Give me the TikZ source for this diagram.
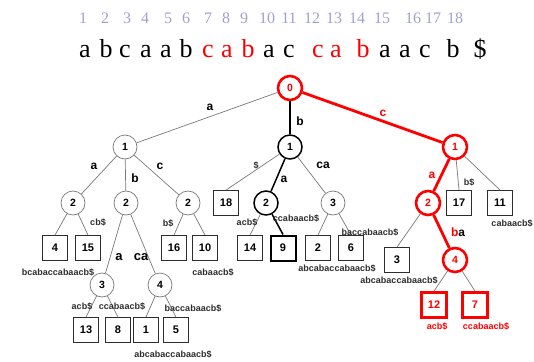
\documentclass[tikz,border=0pt]{standalone}
\usepackage{fontspec}
\setmainfont{Liberation Serif}
\setsansfont{Liberation Sans}
\definecolor{idx}{RGB}{160,160,208}
\definecolor{myred}{RGB}{255,0,0}
\definecolor{edgegray}{RGB}{120,120,120}
\definecolor{lblgray}{RGB}{45,45,45}
\tikzset{
  circ/.style={circle,draw=edgegray,line width=0.7pt,minimum size=24pt,inner sep=0pt,font=\sffamily\bfseries\fontsize{10.5}{10.5}\selectfont},
  circk/.style={circ,draw=black,line width=1.5pt},
  circr/.style={circ,draw=myred,line width=2.6pt,text=myred},
  leaf/.style={rectangle,draw=lblgray,line width=0.8pt,minimum size=25pt,inner sep=0pt,font=\sffamily\bfseries\fontsize{11}{11}\selectfont},
  leafk/.style={leaf,draw=black,line width=2pt},
  leafr/.style={leaf,draw=myred,line width=2.8pt,text=myred},
  thin/.style={draw=edgegray,line width=0.7pt},
  thk/.style={draw=black,line width=1.5pt},
  thr/.style={draw=myred,line width=2.8pt},
  elab/.style={font=\sffamily\bfseries\fontsize{12}{12}\selectfont,inner sep=0pt},
  slab/.style={font=\sffamily\bfseries\fontsize{9}{9}\selectfont,text=lblgray,inner sep=0pt},
  idxn/.style={text=idx,font=\fontsize{16}{16}\selectfont,inner sep=0pt},
  chr/.style={font=\fontsize{26}{26}\selectfont,inner sep=0pt,anchor=base}
}
\begin{document}
\begin{tikzpicture}[x=1pt,y=-1pt]
\useasboundingbox (0,0) rectangle (534,361);
% index numbers
\foreach \n/\x in {1/83,2/105,3/127,4/145,5/168,6/186,7/208,8/226,9/244,10/267,11/289,12/312,13/334,14/357,15/382,16/413,17/433,18/455}
  \node[idxn] (i\n) at (\x,18) {\n};
% string
\foreach \c/\x/\col [count=\k] in {a/85/black,b/106/black,c/125/black,a/146/black,a/166/black,b/186/black,c/208/myred,a/227/myred,b/248/myred,a/269/black,c/289/black,c/318/myred,a/336/myred,b/363/myred,a/385/black,a/405/black,c/425/black,b/453/black,\$/480/black}
  \node[chr,text=\col] (s\k) at (\x,57) {\c};
% tree nodes
\node[circr] (r) at (290,88) {0};
\node[circ] (L1) at (125,147) {1};
\node[circk] (M1) at (290,147) {1};
\node[circr] (R1) at (455,147) {1};
\node[circ] (L2a) at (73,203) {2};
\node[circ] (L2b) at (126,203) {2};
\node[circ] (L2c) at (188,203) {2};
\node[leaf] (B4) at (55,248) {4};
\node[leaf] (B15) at (88,248) {15};
\node[circ] (C3) at (102,285) {3};
\node[circ] (C4) at (160,285) {4};
\node[leaf] (B13) at (86,330) {13};
\node[leaf] (B8) at (118,330) {8};
\node[leaf] (B1) at (146,330) {1};
\node[leaf] (B5) at (176,330) {5};
\node[leaf] (B16) at (174,248) {16};
\node[leaf] (B10) at (205,248) {10};
\node[leaf] (B18) at (226,203) {18};
\node[circk] (M2) at (266,203) {2};
\node[circ] (M3) at (333,203) {3};
\node[leaf] (B14) at (250,248) {14};
\node[leafk] (B9) at (283,248) {9};
\node[leaf] (B2) at (318,248) {2};
\node[leaf] (B6) at (351,248) {6};
\node[circr] (R2) at (428,203) {2};
\node[leaf] (B17) at (459,203) {17};
\node[leaf] (B11) at (500,203) {11};
\node[leaf] (B3) at (397,260) {3};
\node[circr] (R4) at (455,260) {4};
\node[leafr] (B12) at (434,305) {12};
\node[leafr] (B7) at (475,305) {7};
% edges
\draw[thin] (r) -- (L1);
\draw[thk] (r) -- (M1);
\draw[thr] (r) -- (R1);
\draw[thin] (L1) -- (L2a);
\draw[thin] (L1) -- (L2b);
\draw[thin] (L1) -- (L2c);
\draw[thin] (L2a) -- (B4.north);
\draw[thin] (L2a) -- (B15.north);
\draw[thin] (L2b) -- (C3);
\draw[thin] (L2b) -- (C4);
\draw[thin] (C3) -- (B13.north);
\draw[thin] (C3) -- (B8.north);
\draw[thin] (C4) -- (B1.north);
\draw[thin] (C4) -- (B5.north);
\draw[thin] (L2c) -- (B16.north);
\draw[thin] (L2c) -- (B10.north);
\draw[thin] (M1) -- (B18.north);
\draw[thk] (M1) -- (M2);
\draw[thin] (M1) -- (M3);
\draw[thin] (M2) -- (B14.north);
\draw[thk] (M2) -- (B9.north);
\draw[thin] (M3) -- (B2.north);
\draw[thin] (M3) -- (B6.north);
\draw[thr] (R1) -- (R2);
\draw[thin] (R1) -- (B17.north);
\draw[thin] (R1) -- (B11.north);
\draw[thin] (R2) -- (B3.north);
\draw[thr] (R2) -- (R4);
\draw[thin] (R4) -- (B12.north);
\draw[thin] (R4) -- (B7.north);
% edge labels
\node[elab] (la) at (210,107) {a};
\node[elab] (lb) at (300,121) {b};
\node[elab,text=myred] (lc) at (383,113) {c};
\node[elab] (l1a) at (94,166) {a};
\node[elab] (l1b) at (135,178) {b};
\node[elab] (l1c) at (160,166) {c};
\node[elab,font=\sffamily\bfseries\fontsize{13}{13}\selectfont] (l2a) at (119,257) {a};
\node[elab,font=\sffamily\bfseries\fontsize{13}{13}\selectfont] (l2ca) at (141,257) {ca};
\node[slab] (lcb) at (98,222) {cb\$};
\node[slab] (lbc1) at (58,272) {bcabaccabaacb\$};
\node[slab] (lacb1) at (82,306) {acb\$};
\node[slab] (lcc1) at (122,306) {ccabaacb\$};
\node[slab] (lbac1) at (193,308) {baccabaacb\$};
\node[slab] (lab1) at (173,354) {abcabaccabaacb\$};
\node[slab] (lb1) at (168,223) {b\$};
\node[slab] (lcab1) at (213,272) {cabaacb\$};
\node[slab] (ld) at (256,165) {\$};
\node[elab] (l3a) at (284,179) {a};
\node[elab] (l3ca) at (323,165) {ca};
\node[slab] (lacb2) at (247,222) {acb\$};
\node[slab] (lcc2) at (296,218) {ccabaacb\$};
\node[slab] (lbac2) at (370,232) {baccabaacb\$};
\node[slab] (lab2) at (337,268) {abcabaccabaacb\$};
\node[elab,text=myred] (l4a) at (432,175) {a};
\node[slab] (lb2) at (469,182) {b\$};
\node[slab] (lcab2) at (512,223) {cabaacb\$};
\node[elab] (lba) at (458,232) {\textcolor{myred}{b}a};
\node[slab] (lab3) at (399,280) {abcabaccabaacb\$};
\node[slab,text=myred] (lacb3) at (437,326) {acb\$};
\node[slab,text=myred] (lcc3) at (486,326) {ccabaacb\$};
\end{tikzpicture}
\end{document}
